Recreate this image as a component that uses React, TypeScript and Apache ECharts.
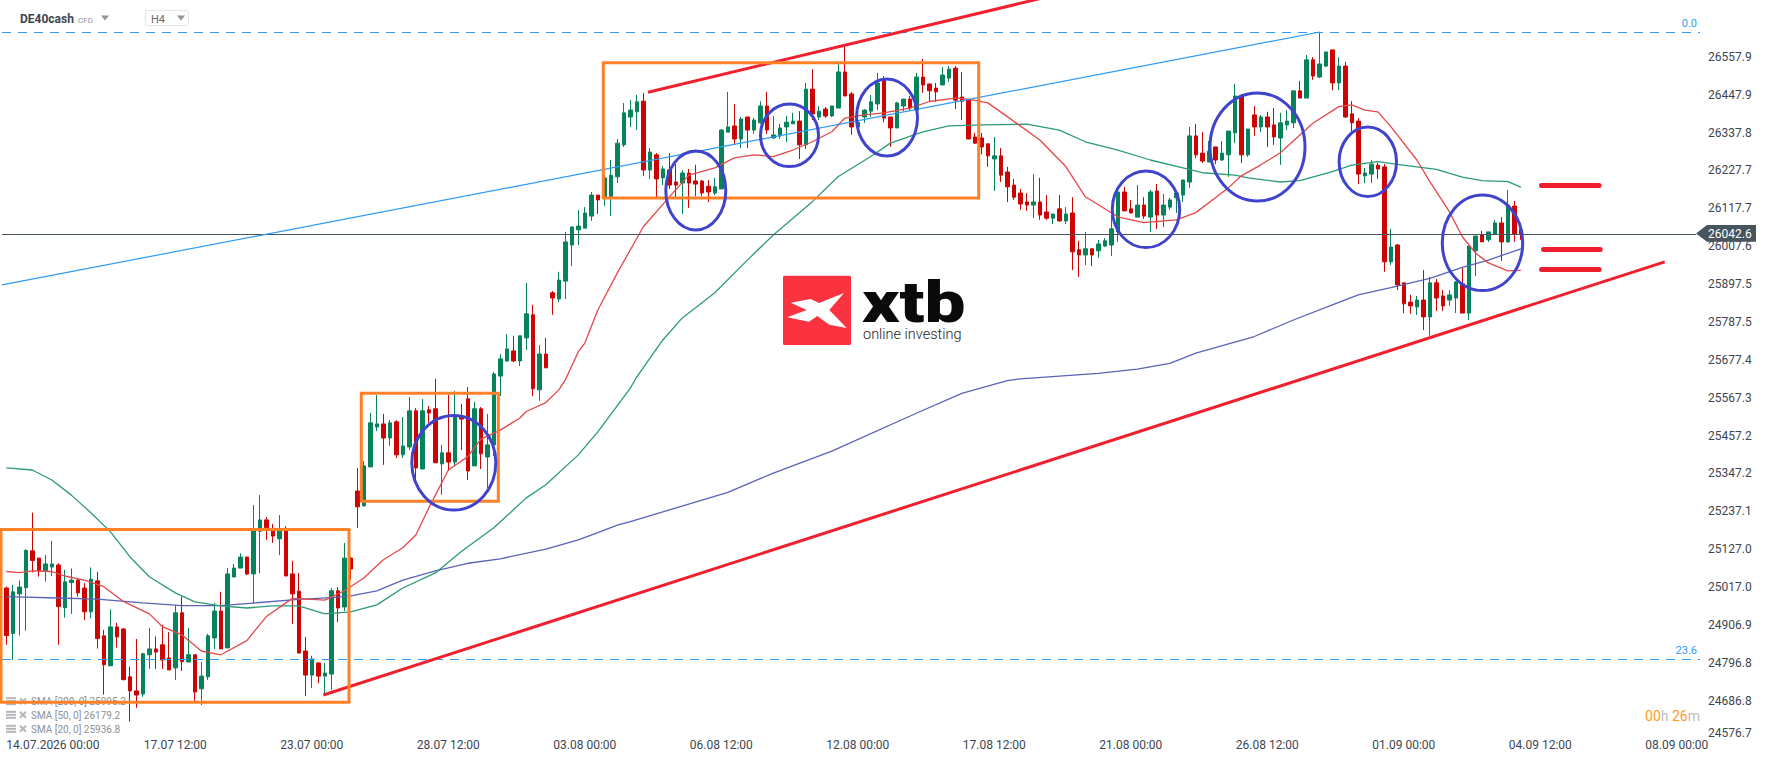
import { useEffect, useRef } from 'react'
import * as echarts from 'echarts'

// DE40cash H4 candles, oldest first
const opens = [
  25014,24882,24997,25015,25122,25101,25064,25075,25081,24957,
  25030,25037,25014,24945,25035,24875,24788,24901,24895,24756,
  24715,24706,24820,24837,24849,24811,24782,24942,24799,24820,
  24721,24756,24869,24947,24840,25046,25072,25104,25055,25179,
  25212,25186,25157,25183,25055,25005,24831,24761,24796,24758,
  24764,25006,24959,25101,25296,25253,25366,25482,25491,25450,
  25497,25401,25424,25529,25360,25532,25535,25375,25407,25380,
  25514,25564,25369,25535,25395,25430,25630,25674,25703,25674,
  25741,25808,25590,25694,25872,25854,25906,26011,26055,26060,
  26095,26156,26150,26150,26209,26302,26383,26398,26429,26229,
  26273,26206,26229,26194,26191,26220,26197,26197,26182,26162,
  26174,26339,26357,26319,26383,26345,26366,26415,26322,26328,
  26354,26363,26371,26302,26464,26383,26406,26386,26409,26514,
  26450,26354,26383,26400,26421,26491,26383,26351,26415,26435,
  26403,26499,26479,26467,26476,26496,26525,26441,26432,26325,
  26322,26305,26261,26270,26223,26185,26162,26136,26127,26136,
  26107,26089,26116,26081,26104,25997,25982,26000,25994,26008,
  26011,26049,26165,26116,26092,26127,26092,26168,26098,26121,
  26148,26156,26194,26328,26278,26252,26296,26258,26273,26337,
  26444,26273,26389,26354,26383,26360,26322,26360,26366,26459,
  26438,26549,26499,26531,26578,26482,26531,26392,26371,26212,
  26217,26243,26238,25962,26011,25901,25845,25831,25851,25802,
  25901,25863,25851,25857,25898,25813,25994,26040,26026,26043,26075,26020,26124,26055,
]
const closes = [
  24876,25003,25017,25123,25094,25064,25084,25084,24960,25032,
  25037,25000,24945,25040,24867,24791,24901,24872,24748,24715,
  24703,24823,24837,24828,24805,24776,24942,24800,24820,24712,
  24758,24875,24947,24837,25055,25072,25104,25055,25180,25212,
  25189,25165,25183,25049,24997,24825,24761,24808,24758,24767,
  25006,24956,25101,25069,25250,25369,25494,25491,25450,25494,
  25401,25427,25529,25363,25529,25523,25378,25407,25380,25517,
  25505,25354,25535,25404,25430,25636,25680,25709,25674,25747,
  25811,25593,25694,25654,25857,25909,26020,26063,26066,26104,
  26156,26142,26206,26214,26307,26395,26403,26427,26229,26281,
  26203,26232,26185,26185,26220,26191,26188,26162,26165,26180,
  26345,26354,26319,26377,26345,26374,26415,26345,26331,26351,
  26368,26371,26302,26464,26392,26400,26386,26415,26514,26444,
  26354,26368,26403,26427,26482,26380,26351,26424,26435,26409,
  26499,26476,26459,26456,26505,26522,26432,26429,26319,26307,
  26296,26270,26270,26214,26180,26150,26130,26127,26136,26098,
  26089,26101,26081,26101,25991,25982,26000,25982,26014,26023,
  26058,26165,26110,26104,26127,26095,26165,26098,26127,26142,
  26162,26200,26328,26273,26255,26284,26258,26278,26342,26444,
  26273,26348,26354,26383,26354,26325,26366,26371,26459,26438,
  26549,26502,26537,26572,26482,26531,26383,26366,26217,26220,
  26246,26232,25962,26005,25895,25840,25834,25851,25802,25901,
  25857,25834,25866,25904,25813,26008,26037,26020,26049,26075,26020,26127,26043,26043,
]
const highs = [
  25018,25023,25036,25127,25233,25101,25110,25151,25086,25067,
  25071,25042,25028,25074,25061,24892,24952,24913,24898,24786,
  24866,24826,24898,24873,24907,24886,24965,24989,24898,24820,
  24799,24881,24970,25003,25072,25084,25115,25104,25255,25284,
  25220,25200,25226,25194,25093,25058,24872,24817,24799,24796,
  25014,25017,25145,25104,25363,25383,25523,25575,25520,25502,
  25502,25511,25569,25537,25563,25543,25622,25430,25575,25587,
  25549,25598,25555,25540,25520,25642,25694,25752,25747,25747,
  25901,25837,25720,25741,25877,25933,26049,26066,26113,26121,
  26165,26156,26214,26258,26319,26424,26432,26447,26453,26293,
  26278,26241,26278,26246,26229,26232,26244,26200,26200,26206,
  26348,26456,26421,26383,26383,26380,26429,26456,26386,26363,
  26386,26395,26400,26482,26522,26415,26412,26415,26537,26589,
  26456,26403,26406,26447,26511,26502,26383,26427,26435,26444,
  26511,26552,26479,26482,26528,26531,26531,26514,26432,26337,
  26337,26305,26325,26293,26238,26203,26174,26162,26217,26206,
  26156,26101,26156,26121,26150,26023,26049,26000,26026,26031,
  26098,26165,26180,26142,26185,26150,26171,26188,26159,26148,
  26162,26200,26354,26363,26339,26313,26296,26313,26342,26479,
  26450,26348,26415,26389,26398,26409,26395,26403,26459,26488,
  26563,26557,26630,26572,26578,26557,26543,26429,26380,26235,
  26258,26249,26246,26058,26014,25901,25866,25863,25938,25918,
  25912,25880,25880,25904,25944,26008,26037,26052,26049,26084,26092,26171,26139,26055,
]
const lows = [
  24849,24805,24876,24890,25059,25047,25033,25049,24849,24928,
  24939,24989,24921,24926,24838,24704,24788,24841,24745,24626,
  24666,24698,24779,24779,24779,24776,24747,24773,24799,24686,
  24674,24747,24837,24837,24840,25046,25072,25052,24968,25057,
  25154,25145,25110,25049,24910,24825,24700,24723,24737,24703,
  24718,24915,24947,25037,25189,25250,25366,25470,25372,25427,
  25392,25392,25415,25328,25360,25494,25378,25285,25354,25369,
  25415,25328,25369,25360,25305,25398,25572,25671,25671,25659,
  25706,25572,25558,25654,25808,25845,25854,25950,26011,26060,
  26081,26101,26124,26095,26191,26296,26354,26345,26212,26203,
  26150,26185,26174,26150,26101,26119,26153,26153,26136,26156,
  26174,26339,26302,26293,26293,26334,26363,26334,26319,26319,
  26310,26363,26261,26290,26374,26374,26380,26383,26409,26444,
  26331,26354,26366,26383,26403,26368,26296,26351,26400,26400,
  26403,26453,26427,26427,26476,26485,26406,26374,26319,26305,
  26275,26238,26168,26194,26136,26142,26113,26110,26089,26084,
  26084,26072,26078,26072,25938,25918,25953,25950,25973,26005,
  25979,26020,26110,26104,26092,26087,26049,26058,26063,26113,
  26104,26136,26177,26264,26249,26252,26246,26255,26209,26307,
  26249,26267,26328,26339,26296,26302,26244,26345,26351,26438,
  26438,26491,26496,26528,26461,26461,26380,26342,26188,26191,
  26191,26203,25933,25953,25880,25813,25811,25808,25764,25747,
  25819,25819,25834,25813,25813,25793,25921,26020,26020,26043,25965,26017,26020,26026,
]

// moving averages as [bar index, price] vertices
const sma20: [number, number][] = [
  [0,25062],[2,25059],[4,25064],[7,25062],[9,25049],[12,25037],[15,25018],[18,24975],[22,24939],[24,24902],
  [27,24878],[30,24831],[33,24820],[37,24861],[40,24931],[44,24984],[47,24981],[49,24979],[52,25006],[55,25043],
  [58,25096],[61,25131],[63,25168],[65,25247],[68,25357],[71,25396],[73,25447],[76,25473],[79,25508],[80,25527],
  [83,25553],[85,25590],[86,25619],[88,25701],[89,25726],[91,25822],[94,25930],[98,26064],[102,26151],[105,26214],
  [109,26235],[112,26264],[115,26273],[118,26268],[121,26287],[124,26311],[127,26340],[129,26380],[132,26389],[135,26395],
  [139,26409],[142,26428],[146,26438],[148,26435],[151,26424],[154,26384],[159,26316],[163,26239],[166,26151],[171,26093],
  [175,26076],[180,26084],[183,26105],[186,26148],[188,26177],[190,26212],[193,26244],[196,26279],[201,26365],[205,26413],
  [207,26418],[209,26403],[211,26398],[213,26355],[217,26258],[219,26195],[222,26108],[224,26035],[226,25988],[228,25959],
  [231,25936],[233,25937],
]
const sma50: [number, number][] = [
  [0,25363],[4,25357],[7,25328],[10,25284],[13,25233],[16,25178],[19,25105],[22,25047],[26,25000],[29,24974],
  [33,24962],[37,24956],[41,24962],[45,24962],[49,24939],[53,24945],[57,24965],[61,25014],[66,25058],[70,25120],
  [75,25189],[80,25276],[83,25314],[88,25401],[91,25468],[96,25595],[97,25628],[101,25735],[104,25799],[109,25872],
  [114,25967],[118,26040],[124,26137],[128,26210],[133,26268],[136,26307],[141,26340],[145,26357],[150,26360],[157,26362],
  [162,26345],[166,26311],[171,26287],[176,26258],[181,26235],[184,26221],[189,26214],[191,26206],[196,26194],[199,26198],
  [204,26224],[207,26243],[211,26253],[214,26245],[220,26231],[224,26208],[227,26198],[231,26195],[233,26179],
]
const sma200: [number, number][] = [
  [0,24989],[8,24985],[14,24982],[21,24971],[27,24963],[33,24963],[39,24972],[45,24981],[50,24986],[53,24991],
  [57,25006],[61,25037],[66,25064],[71,25086],[76,25099],[83,25127],[88,25154],[91,25175],[94,25197],[96,25207],
  [111,25292],[118,25348],[127,25412],[140,25522],[147,25580],[154,25617],[156,25622],[168,25638],[174,25650],[179,25667],
  [183,25697],[192,25745],[198,25793],[204,25837],[208,25866],[213,25887],[219,25914],[224,25946],[228,25967],[233,26000],
]

// ascending, the axis takes the first one as its min label
const yTicks = [
  24576.7,24686.8,24796.8,24906.9,25017.0,25127.0,25237.1,25347.2,25457.2,25567.3,
  25677.4,25787.5,25897.5,26007.6,26117.7,26227.7,26337.8,26447.9,26557.9,
]
const xLabels = [
  '14.07.2026 00:00','17.07 12:00','23.07 00:00','28.07 12:00','03.08 00:00','06.08 12:00','12.08 00:00',
  '17.08 12:00','21.08 00:00','26.08 12:00','01.09 00:00','04.09 12:00','08.09 00:00',
]
const xLabelBars = [0,26,47,68,89,110,131,152,173,194,215,236,257]

const lastPrice = 26042.6
const fibLevels = [
  { name: '0.0', price: 26628.6 },
  { name: '23.6', price: 24807 },
]

const legendRows = [
  { text: 'SMA [200, 0] 25995.2', y: 701.7 },
  { text: 'SMA [50, 0] 26179.2', y: 715.3 },
  { text: 'SMA [20, 0] 25936.8', y: 729.3 },
]

// hand drawn overlays of the original screenshot (page pixels)
const orangeBoxes = [
  [1, 529.5, 348, 172.8],
  [361.3, 393.3, 137, 108],
  [603.3, 62.7, 375.4, 135.3],
]
const blueRings = [
  [453.8, 462.7, 42, 47.3],
  [695.8, 190.5, 30, 39.5],
  [789.5, 135.3, 29, 31.3],
  [887, 117.5, 30.5, 38.5],
  [1146, 209.3, 33.7, 38.3],
  [1257.5, 147, 47.5, 54],
  [1367.8, 161.8, 28.7, 34.8],
  [1482.5, 242.8, 40.2, 47.8],
]
const redDashes = [
  [1539, 183, 62.6],
  [1541, 247, 61.7],
  [1539, 267, 62.6],
]

const BAR_COUNT = 262
const BAR_STEP = 6.5
const UP = '#06835b'
const DOWN = '#cc0404'
const LABEL = '#3d4650'
const FIB = '#2f9bf5'
const TAG = '#47555f'
const LOGO_RED = '#fb3240'
const FONT = 'Roboto'

const categories: string[] = Array.from({ length: BAR_COUNT }, () => '')
xLabelBars.forEach((bar, i) => { categories[bar] = xLabels[i] })

const candles = opens.map((open, i) => [open, closes[i], lows[i], highs[i]])

function buildGraphic(): any[] {
  const els: any[] = []

  // legend under the first box
  legendRows.forEach(row => {
    ;[-3.5, -0.5, 2.5].forEach(dy => {
      els.push({ type: 'rect', z: 30, shape: { x: 6, y: row.y + dy - 1, width: 10, height: 2 }, style: { fill: '#b4b8bc' } })
    })
    els.push({ type: 'line', z: 30, shape: { x1: 20, y1: row.y - 3.5, x2: 26, y2: row.y + 2.5 }, style: { stroke: '#b4b8bc', lineWidth: 2 } })
    els.push({ type: 'line', z: 30, shape: { x1: 26, y1: row.y - 3.5, x2: 20, y2: row.y + 2.5 }, style: { stroke: '#b4b8bc', lineWidth: 2 } })
    els.push({
      type: 'text', z: 30,
      style: { x: 31, y: row.y, text: row.text, fill: '#8b9197', font: `10px ${FONT}`, verticalAlign: 'middle' },
    })
  })

  orangeBoxes.forEach(([x, y, width, height]) => {
    els.push({ type: 'rect', z: 40, shape: { x, y, width, height }, style: { fill: 'none', stroke: '#ff8026', lineWidth: 3 } })
  })
  blueRings.forEach(([cx, cy, rx, ry]) => {
    els.push({ type: 'ellipse', z: 41, shape: { cx, cy, rx, ry }, style: { fill: 'none', stroke: '#4044cc', lineWidth: 3 } })
  })
  redDashes.forEach(([x, y, width]) => {
    els.push({ type: 'rect', z: 41, shape: { x, y, width, height: 5, r: 2.5 }, style: { fill: '#ee1f2d' } })
  })

  // header
  els.push({ type: 'text', z: 42, style: { x: 20, y: 19, text: 'DE40cash', fill: LABEL, font: `bold 12px ${FONT}`, verticalAlign: 'middle' } })
  els.push({ type: 'text', z: 42, style: { x: 78, y: 20, text: 'CFD', fill: '#8f959b', font: `8px ${FONT}`, verticalAlign: 'middle' } })
  els.push({ type: 'polygon', z: 42, shape: { points: [[101, 15.5], [109, 15.5], [105, 20.5]] }, style: { fill: '#8f959b' } })
  els.push({ type: 'rect', z: 42, shape: { x: 145.5, y: 10.5, width: 43, height: 15, r: 2 }, style: { fill: '#fff', stroke: '#e2e4e6', lineWidth: 1 } })
  els.push({ type: 'text', z: 43, style: { x: 151, y: 19, text: 'H4', fill: '#666c72', font: `11px ${FONT}`, verticalAlign: 'middle' } })
  els.push({ type: 'polygon', z: 43, shape: { points: [[177, 15.5], [185, 15.5], [181, 20.5]] }, style: { fill: '#8f959b' } })

  // last price tag
  els.push({
    type: 'polygon', z: 44,
    shape: { points: [[1696, 233.5], [1707, 225], [1756, 225], [1756, 241.7], [1707, 241.7]] },
    style: { fill: TAG },
  })
  els.push({
    type: 'text', z: 45,
    style: { x: 1708, y: 233.7, text: lastPrice.toFixed(1), fill: '#ffffff', font: `12px ${FONT}`, verticalAlign: 'middle' },
  })

  // candle countdown
  els.push({
    type: 'text', z: 45,
    style: {
      x: 1700, y: 716, align: 'right', verticalAlign: 'middle',
      text: '{d|00}{u|h} {d|26}{u|m}',
      font: `14px ${FONT}`,
      rich: {
        d: { fill: '#ff9a1f', font: `14px ${FONT}` },
        u: { fill: '#bdbdbd', font: `14px ${FONT}` },
      },
    },
  })

  // watermark logo
  els.push({ type: 'rect', z: 46, shape: { x: 783, y: 275.7, width: 68, height: 69.3, r: 1.5 }, style: { fill: LOGO_RED } })
  els.push({
    type: 'polygon', z: 47,
    shape: {
      points: [
        [790.7, 302.7], [810.7, 299], [819, 303], [844, 293], [829.3, 310], [846.7, 328],
        [829.3, 324.7], [817.3, 316], [809, 321.7], [787.3, 317.3], [806.7, 310],
      ],
    },
    style: { fill: '#ffffff' },
  })
  els.push({
    type: 'text', z: 47, x: 862, y: 331, scaleX: 1.255,
    style: { x: 0, y: 0, text: 'xtb', fill: '#0a0a0a', font: `900 58px ${FONT}`, verticalAlign: 'bottom' },
  })
  els.push({
    type: 'text', z: 47,
    style: { x: 863, y: 334, text: 'online investing', fill: '#222222', font: `300 14.5px ${FONT}`, verticalAlign: 'middle' },
  })
  return els
}

function trend(x1: number, p1: number, x2: number, p2: number, color: string, width: number) {
  return [
    { x: x1, coord: [0, p1], lineStyle: { color, width, type: 'solid' } },
    { x: x2, coord: [0, p2] },
  ]
}

export default function App() {
  const chartRef = useRef<HTMLDivElement>(null)

  useEffect(() => {
    if (!chartRef.current) return
    const chart = echarts.init(chartRef.current, null, { renderer: 'svg' })

    const smaSeries = (name: string, data: [number, number][], color: string) => ({
      name,
      type: 'line',
      data,
      symbol: 'none',
      silent: true,
      z: 3,
      lineStyle: { color, width: 1.3 },
    })

    const option: any = {
      animation: false,
      backgroundColor: '#ffffff',
      textStyle: { fontFamily: FONT },
      tooltip: { show: false },
      grid: { left: 3.08, top: 0, width: BAR_COUNT * BAR_STEP, height: 738.5, containLabel: false },
      xAxis: {
        type: 'category',
        data: categories,
        boundaryGap: true,
        axisLine: { show: false },
        axisTick: { show: false },
        splitLine: { show: false },
        axisLabel: {
          color: LABEL,
          fontSize: 12,
          fontFamily: FONT,
          margin: 0,
          alignMinLabel: 'left',
          hideOverlap: false,
          interval: (index: number) => categories[index] !== '',
        },
      },
      yAxis: {
        type: 'value',
        position: 'right',
        min: 24576.7,
        max: 26723,
        axisLine: { show: false },
        axisTick: { show: false },
        splitLine: { show: false },
        axisLabel: {
          customValues: yTicks,
          showMinLabel: true,
          showMaxLabel: true,
          color: LABEL,
          fontSize: 12,
          fontFamily: FONT,
          margin: 2,
          verticalAlignMinLabel: 'bottom',
          formatter: (v: number) => v.toFixed(1),
        },
      },
      series: [
        {
          type: 'candlestick',
          data: candles,
          barWidth: 4,
          silent: true,
          z: 2,
          itemStyle: {
            color: UP,
            color0: DOWN,
            borderColor: UP,
            borderColor0: DOWN,
            borderWidth: 1,
          },
          markLine: {
            silent: true,
            symbol: ['none', 'none'],
            label: { show: false },
            data: [
              // current price
              trend(2, lastPrice, 1696, lastPrice, TAG, 1),
              // fibo levels with their names
              ...fibLevels.map(f => [
                {
                  x: 2,
                  coord: [0, f.price],
                  lineStyle: { color: FIB, width: 1, type: [9, 7] },
                  label: {
                    show: true,
                    formatter: f.name,
                    position: 'insideEndTop',
                    color: FIB,
                    fontSize: 11,
                    fontFamily: FONT,
                    distance: 3,
                  },
                },
                { x: 1700, coord: [0, f.price] },
              ]),
              // blue trend line to the top
              trend(2, 25895, 1320, 26630, FIB, 1.2),
              // red support and upper trend lines
              trend(323.4, 24703, 1664.7, 25962, '#f0202e', 3),
              trend(648, 26455, 1060, 26741, '#f0202e', 3),
            ],
          },
        },
        smaSeries('SMA 200', sma200, '#5a63b5'),
        smaSeries('SMA 50', sma50, '#2c9a78'),
        smaSeries('SMA 20', sma20, '#e4484b'),
      ],
      graphic: { elements: buildGraphic() },
    }

    chart.setOption(option)

    return () => {
      chart.dispose()
    }
  }, [])

  return <div ref={chartRef} style={{ position: 'absolute', left: 0, top: 0, width: 1768, height: 761 }} />
}
